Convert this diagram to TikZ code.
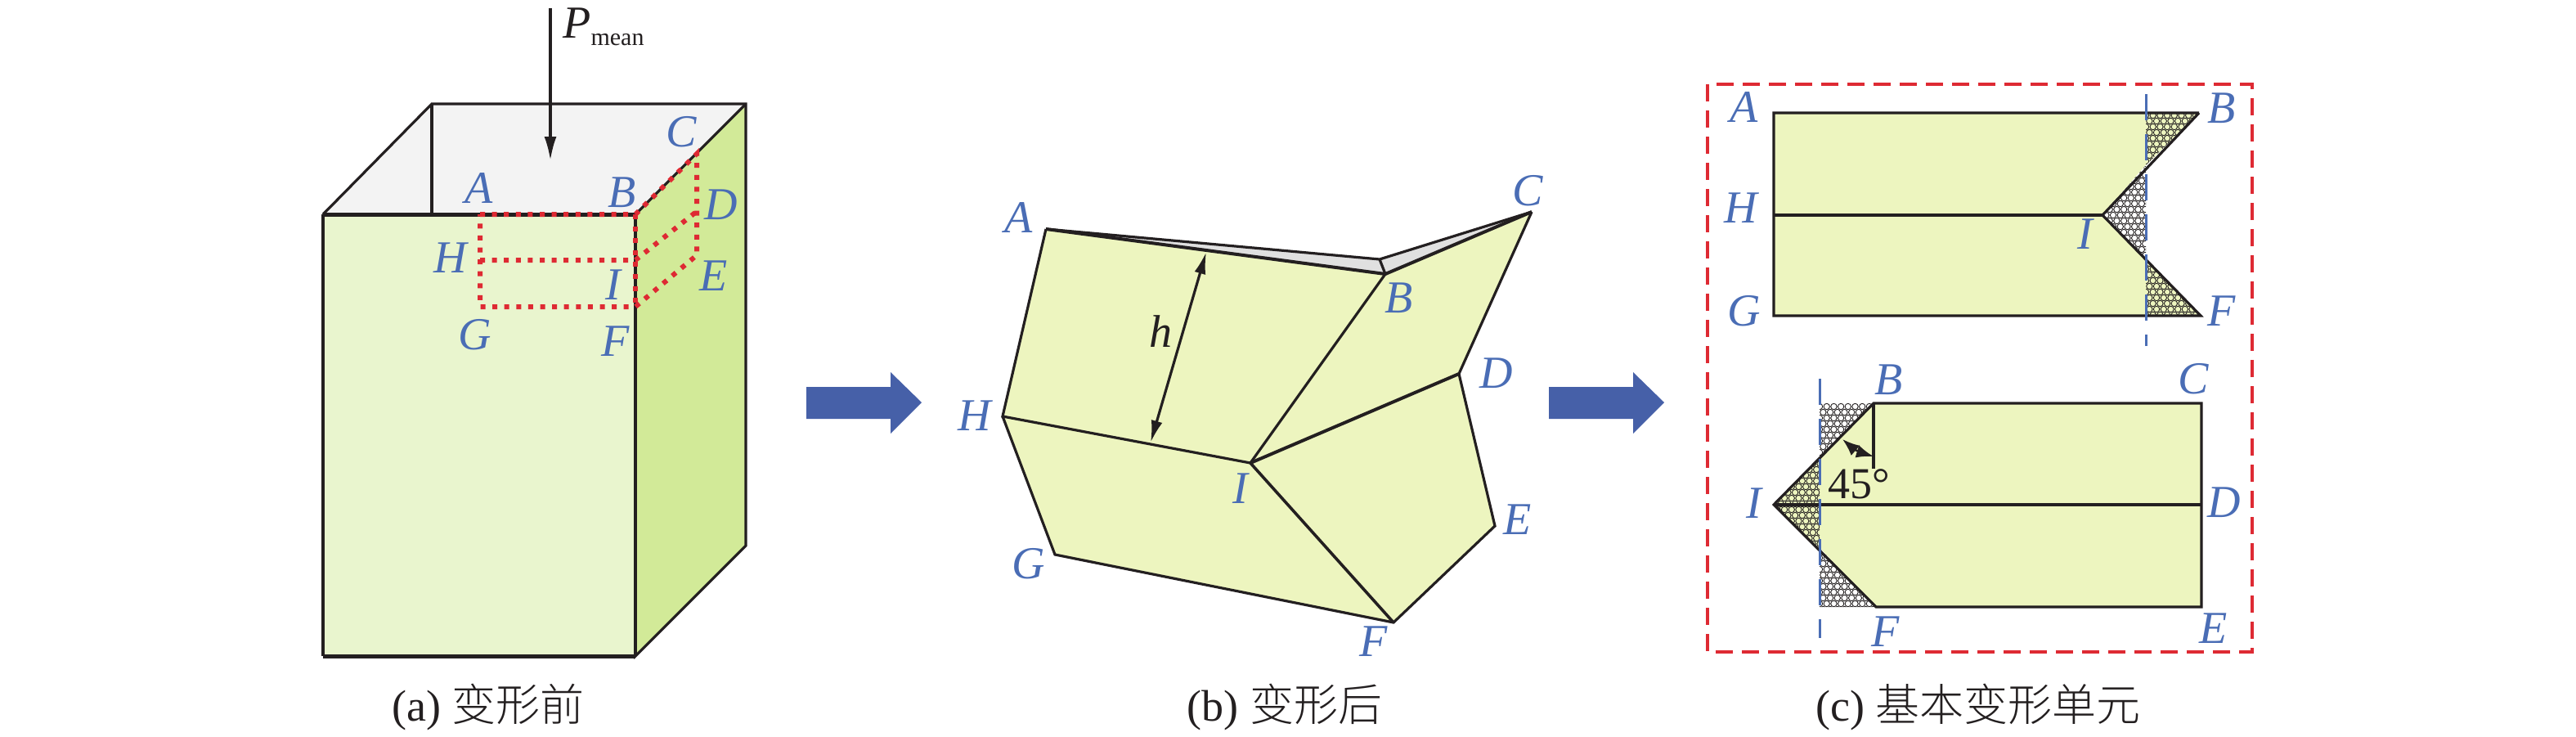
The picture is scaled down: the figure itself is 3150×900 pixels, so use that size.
\documentclass[tikz,border=0pt]{standalone}
\usepackage{fontspec}
\setmainfont{Liberation Serif}
\newfontfamily\cjk[UprightFont=* Light]{Noto Sans CJK SC}
\usetikzlibrary{arrows.meta}
\definecolor{inkc}{HTML}{231F20}
\definecolor{labc}{HTML}{4A6DB5}
\definecolor{redc}{HTML}{DE2A33}
\definecolor{arrc}{HTML}{4660A8}
\definecolor{frontc}{HTML}{E9F5CE}
\definecolor{sidec}{HTML}{D2EA98}
\definecolor{topc}{HTML}{F3F3F3}
\definecolor{foldc}{HTML}{EDF5BF}
\definecolor{grayc}{HTML}{E0E0E0}
% #1 path, #2 colour, #3 left x, #4 top y, #5 columns, #6 rows
\newcommand{\hexpatch}[6]{%
  \begin{scope}
    \fill[#2] #1;
    \clip #1;
    \foreach \r in {0,...,#6}{%
      \pgfmathsetmacro{\ry}{#4+\r*7}
      \pgfmathsetmacro{\off}{mod(\r,2)*4.35}
      \foreach \c in {0,...,#5}{%
        \pgfmathsetmacro{\cx}{#3+\c*8.7+\off}
        \draw[line width=0.9pt,inkc,fill=#2] (\cx,\ry) circle[radius=3.7];
      }%
    }%
  \end{scope}%
}
\tikzset{
  x=1pt,y=-1pt,
  edge/.style={line width=3.2pt,inkc,line join=miter},
  thick edge/.style={line width=5pt,inkc,line join=miter},
  reddot/.style={line width=6pt,redc,dash pattern=on 6pt off 8.6pt},
  lab/.style={inner sep=0pt,text=labc,font=\fontsize{56}{56}\selectfont\itshape},
  blk/.style={inner sep=0pt,text=inkc},
  captext/.style={inner sep=0pt,text=inkc,font=\fontsize{54}{54}\selectfont},
  bigarrow/.style={fill=arrc,draw=none},
  cutline/.style={line width=3pt,labc,dash pattern=on 32pt off 17pt},
  redbox/.style={line width=4.5pt,redc,dash pattern=on 21pt off 11pt},
}
\begin{document}
\begin{tikzpicture}
\useasboundingbox (0,0) rectangle (3150,900);
% ---------- (a)
\coordinate (fl) at (395,262); \coordinate (fr) at (777,262);
\coordinate (bl) at (395,802); \coordinate (br) at (777,802);
\coordinate (tl) at (528,127); \coordinate (tr) at (912,127);
\coordinate (sb) at (912,667);
\fill[topc] (fl)--(tl)--(tr)--(fr)--cycle;
\fill[sidec] (fr)--(tr)--(sb)--(br)--cycle;
\fill[frontc] (fl)--(fr)--(br)--(bl)--cycle;
\draw[edge] (fl)--(tl)--(tr)--(sb)--(br)--(fr);
\draw[edge] (tl)--(528,262);
\draw[edge] (tr)--(fr);
\draw[edge] (fl)--(bl);
\draw[thick edge] (bl)--(br);
\draw[thick edge] (fl)--(fr);
\draw[edge] (br)--(fr);
\coordinate (aA) at (587,262); \coordinate (aB) at (777,262);
\coordinate (aC) at (852,188); \coordinate (aD) at (850,260);
\coordinate (aE) at (852,308); \coordinate (aF) at (777,375);
\coordinate (aG) at (587,375); \coordinate (aH) at (587,318);
\coordinate (aI) at (777,318);
\draw[reddot] (aA)--(aB)--(aC)--(852,312)--(aF)--(aG)--(aA);
\draw[reddot] (aB)--(aF);
\draw[reddot] (aH)--(aI)--(aD);
\coordinate (ps) at (673,10); \coordinate (pe) at (673,196);
\draw[line width=3.2pt,inkc,-{Latex[length=29pt,width=15pt]}] (ps)--(pe);
\node[blk,font=\fontsize{56}{56}\selectfont\itshape] (pP) at (706,28) {P};
\node[blk,font=\fontsize{30}{30}\selectfont] (pm) at (755,49) {mean};
\node[lab] (laA) at (586,230) {A};
\node[lab] (laB) at (761,235) {B};
\node[lab] (laC) at (833,161) {C};
\node[lab] (laD) at (882,250) {D};
\node[lab] (laE) at (873,337) {E};
\node[lab] (laF) at (753,417) {F};
\node[lab] (laG) at (581,409) {G};
\node[lab] (laH) at (551,315) {H};
\node[lab] (laI) at (750,348) {I};
\node[captext] (capa) at (597,865) {(a) {\cjk 变形前}};
% ---------- block arrows
\fill[bigarrow] (986,473)--(1089,473)--(1089,455)--(1127,492)--(1089,530)--(1089,512)--(986,512)--cycle;
\fill[bigarrow] (1894,473)--(1997,473)--(1997,455)--(2035,492)--(1997,530)--(1997,512)--(1894,512)--cycle;
% ---------- (b)
\coordinate (bA) at (1279,280); \coordinate (bB) at (1694,335);
\coordinate (bBb) at (1687,317); \coordinate (bC) at (1873,259);
\coordinate (bD) at (1784,457); \coordinate (bE) at (1828,643);
\coordinate (bF) at (1704,761); \coordinate (bG) at (1290,678);
\coordinate (bH) at (1226,509); \coordinate (bI) at (1529,566);
\fill[grayc] (bA)--(bBb)--(bC)--(bB)--cycle;
\fill[foldc] (bA)--(bB)--(bC)--(bD)--(bE)--(bF)--(bG)--(bH)--cycle;
\draw[edge] (bA)--(bBb)--(bC);
\draw[edge] (bBb)--(bB);
\draw[thick edge,line width=4pt] (bA)--(bB)--(bC);
\draw[edge] (bC)--(bD)--(bE)--(bF)--(bG)--(bH);
\draw[edge] (bA)--(bH)--(bI)--(bB);
\draw[thick edge,line width=4pt] (bI)--(bD);
\draw[edge,line width=3.6pt] (bI)--(bF);
\coordinate (hs) at (1475,308); \coordinate (he) at (1407,541);
\draw[line width=3.2pt,inkc,{Latex[length=27pt,width=14pt]}-{Latex[length=27pt,width=14pt]}] (hs)--(he);
\node[blk,font=\fontsize{56}{56}\selectfont\itshape] (lh) at (1419,405) {h};
\node[lab] (lbA) at (1246,266) {A};
\node[lab] (lbB) at (1711,364) {B};
\node[lab] (lbC) at (1868,233) {C};
\node[lab] (lbD) at (1830,456) {D};
\node[lab] (lbE) at (1856,635) {E};
\node[lab] (lbF) at (1680,784) {F};
\node[lab] (lbG) at (1258,689) {G};
\node[lab] (lbH) at (1192,508) {H};
\node[lab] (lbI) at (1517,597) {I};
\node[captext] (capb) at (1571,865) {(b) {\cjk 变形后}};
% ---------- (c)
\draw[redbox] (2088,103) rectangle (2754,797);
% upper unit
\coordinate (uA) at (2169,138); \coordinate (uB) at (2689,138);
\coordinate (uI) at (2571,263); \coordinate (uF) at (2691,386);
\coordinate (uG) at (2169,386); \coordinate (uH) at (2169,263);
\coordinate (uT) at (2624,138); \coordinate (uP) at (2624,202);
\coordinate (uQ) at (2624,317); \coordinate (uR) at (2624,386);
\fill[foldc] (uA)--(uT)--(uP)--(uI)--(uQ)--(uR)--(uG)--cycle;
\hexpatch{(uT)--(uB)--(uP)--cycle}{foldc}{2624}{141}{8}{9}
\hexpatch{(uI)--(uP)--(uQ)--cycle}{white}{2571}{200}{7}{17}
\hexpatch{(uQ)--(uF)--(uR)--cycle}{foldc}{2624}{315}{8}{11}
\draw[edge] (uB)--(uA)--(uG)--(uF)--(uI)--(uB);
\draw[edge] (uH)--(uI);
\draw[cutline] (2624,115)--(2624,423);
\node[lab] (lcA) at (2133,131) {A};
\node[lab] (lcB) at (2717,132) {B};
\node[lab] (lcF) at (2717,380) {F};
\node[lab] (lcG) at (2133,380) {G};
\node[lab] (lcH) at (2129,254) {H};
\node[lab] (lcI) at (2550,286) {I};
% lower unit
\coordinate (vB) at (2291,493); \coordinate (vC) at (2692,493);
\coordinate (vD) at (2692,617); \coordinate (vE) at (2692,742);
\coordinate (vF) at (2294,742); \coordinate (vI) at (2169,617);
\coordinate (vT) at (2225,493); \coordinate (vP) at (2225,562);
\coordinate (vQ) at (2225,670); \coordinate (vR) at (2225,742);
\fill[foldc] (vB)--(vC)--(vE)--(vF)--(vQ)--(vP)--cycle;
\hexpatch{(vT)--(vB)--(vP)--cycle}{white}{2225}{497}{8}{10}
\hexpatch{(vI)--(vP)--(vQ)--cycle}{foldc}{2169}{560}{7}{16}
\hexpatch{(vQ)--(vF)--(vR)--cycle}{white}{2225}{668}{8}{11}
\draw[edge] (vB)--(vC)--(vE)--(vF)--(vI)--cycle;
\draw[edge] (vI)--(vD);
\draw[edge] (vB)--(2291,573);
\draw[cutline] (2225,463)--(2225,780);
\coordinate (as) at (2291,558); \coordinate (ae) at (2253,537);
\draw[line width=2.5pt,inkc,{Latex[length=21pt,width=16pt]}-{Latex[length=21pt,width=16pt]}] (as) to[bend left=12] (ae);
\node[blk,font=\fontsize{54}{54}\selectfont] (deg) at (2273,592) {45°};
\node[lab] (ldB) at (2310,464) {B};
\node[lab] (ldC) at (2682,463) {C};
\node[lab] (ldD) at (2720,614) {D};
\node[lab] (ldE) at (2707,768) {E};
\node[lab] (ldF) at (2306,772) {F};
\node[lab] (ldI) at (2145,615) {I};
\node[captext] (capc) at (2419,865) {(c) {\cjk 基本变形单元}};
\end{tikzpicture}
\end{document}
